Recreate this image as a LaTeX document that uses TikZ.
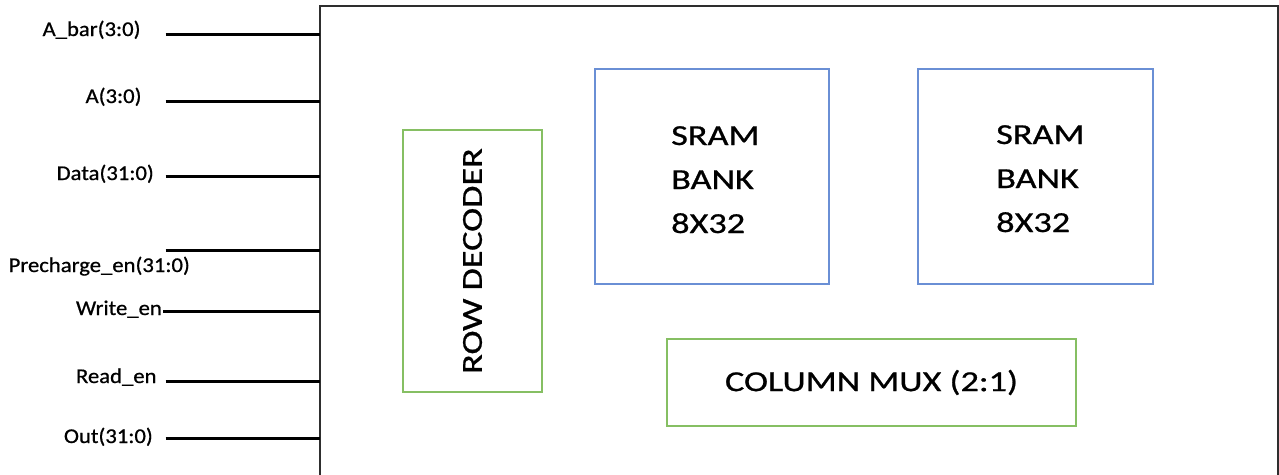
\documentclass[tikz,border=0pt]{standalone}
\usepackage{fontspec}
\setmainfont{Carlito}[FakeBold=0.7]
\definecolor{bankblue}{HTML}{6A8FD5}
\definecolor{boxgreen}{HTML}{86BF63}
\definecolor{framegray}{HTML}{2E2E2E}
\newcommand{\lbl}[1]{\scalebox{1.08}[1]{#1}}
\newcommand{\bigtxt}[1]{\scalebox{1.25}[1]{#1}}
\begin{document}
\begin{tikzpicture}[x=1pt,y=-1pt,
  sig/.style={line width=3pt, black},
  lab/.style={anchor=base east, inner sep=0, font=\fontsize{21}{25}\selectfont},
  bluebox/.style={draw=bankblue, line width=1.5pt, inner sep=0, outer sep=0},
  greenbox/.style={draw=boxgreen, line width=1.5pt, inner sep=0, outer sep=0},
  bigtext/.style={inner sep=0, font=\fontsize{29}{44}\selectfont}]
\useasboundingbox (0,0) rectangle (1279,474);
\clip (0,0) rectangle (1279,474);

% main frame (bottom edge lies outside the picture)
\node[draw=framegray, line width=1.8pt, inner sep=0, outer sep=0,
      minimum width=958pt, minimum height=600pt, anchor=north west] (main) at (320,6) {};

% inner blocks
\node[greenbox, minimum width=139pt, minimum height=262pt] (rowdec) at (472.5,261)
  {\fontsize{29}{44}\selectfont\rotatebox{90}{\bigtxt{ROW DECODER}}};
\node[bluebox, minimum width=234pt, minimum height=215pt] (bank1) at (712,176.5) {};
\node[bluebox, minimum width=235pt, minimum height=215pt] (bank2) at (1035.5,176.5) {};
\node[greenbox, minimum width=409pt, minimum height=87pt] (cmux) at (871.5,382.5)
  {\fontsize{29}{44}\selectfont\bigtxt{COLUMN MUX (2:1)}};

\node[bigtext, anchor=base west] (bank1txt) at (671,145)
  {\bigtxt{\begin{tabular}[t]{@{}l@{}}SRAM\\BANK\\8X32\end{tabular}}};
\node[bigtext, anchor=base west] (bank2txt) at (996,144)
  {\bigtxt{\begin{tabular}[t]{@{}l@{}}SRAM\\BANK\\8X32\end{tabular}}};

% signal labels
\node[lab] (lAbar) at (140.7,36)  {\lbl{A\_bar(3:0)}};
\node[lab] (lA)    at (141.7,103) {\lbl{A(3:0)}};
\node[lab] (lData) at (154,180)   {\lbl{Data(31:0)}};
\node[lab] (lPre)  at (190,272)   {\lbl{Precharge\_en(31:0)}};
\node[lab] (lWr)   at (162,315)   {\lbl{Write\_en}};
\node[lab] (lRd)   at (156.7,383) {\lbl{Read\_en}};
\node[lab] (lOut)  at (153,443)   {\lbl{Out(31:0)}};

% signal wires
\coordinate (sAbar) at (165.7,34);
\coordinate (sA)    at (165.7,101);
\coordinate (sData) at (165.7,176);
\coordinate (sPre)  at (165.7,250);
\coordinate (sWr)   at (163,311.7);
\coordinate (sRd)   at (165.7,381);
\coordinate (sOut)  at (165.7,438.3);
\foreach \s in {sAbar,sA,sData,sPre,sWr,sRd,sOut}
  \draw[sig] (\s) -- (\s -| main.west);
\end{tikzpicture}
\end{document}
